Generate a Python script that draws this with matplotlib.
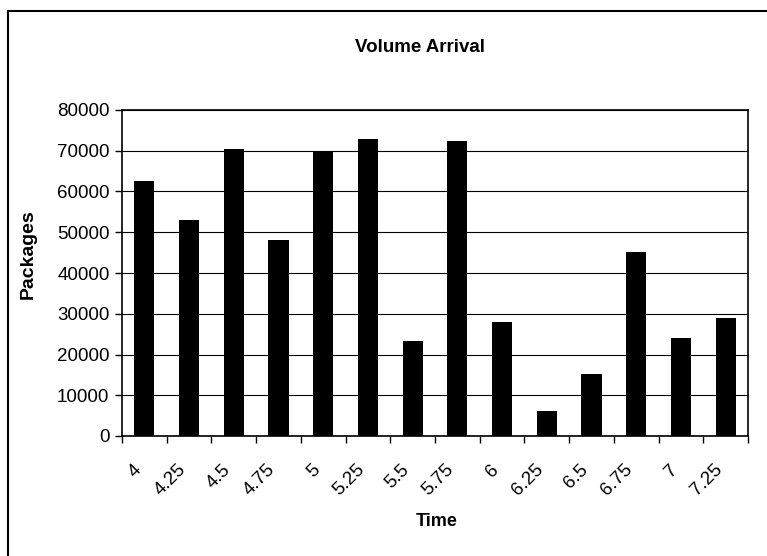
import numpy as np
import matplotlib
matplotlib.use('Agg')
import matplotlib.pyplot as plt
from matplotlib.patches import Rectangle

# data
times = ['4', '4.25', '4.5', '4.75', '5', '5.25', '5.5', '5.75', '6', '6.25', '6.5', '6.75', '7', '7.25']
packages = [62500, 53000, 70400, 48100, 70000, 72800, 23400, 72400, 28000, 6200, 15100, 45200, 24100, 29000]
y_ticks = [0, 10000, 20000, 30000, 40000, 50000, 60000, 70000, 80000]

plt.rcParams['font.family'] = ['Liberation Sans', 'DejaVu Sans']

W, H = 767, 556
fig = plt.figure(figsize=(W / 100, H / 100), dpi=100)
# axes box in pixels: left 122, right 748, top 110, bottom 436
ax = fig.add_axes([122 / W, 1 - 436 / H, (748 - 122) / W, (436 - 110) / H])

x = np.arange(len(times))
ax.bar(x, packages, width=0.45, color='black', zorder=3)

ax.set_xlim(-0.5, len(times) - 0.5)
ax.set_ylim(0, 80000)
ax.set_yticks(y_ticks)
ax.set_yticklabels([str(v) for v in y_ticks], fontsize=13.5)
ax.yaxis.grid(True, color='black', linewidth=0.8, zorder=0)

# category labels at centers, tick marks at boundaries
ax.set_xticks(x)
ax.set_xticklabels(times, fontsize=13.5, rotation=45, ha='right', va='top')
ax.tick_params(axis='x', length=0, pad=18)
ax.set_xticks(np.arange(-0.5, len(times)), minor=True)
ax.tick_params(axis='x', which='minor', length=5, width=1, direction='out')
ax.tick_params(axis='y', length=5, width=1, direction='out', pad=4)

for s in ax.spines.values():
    s.set_linewidth(1.2)
    s.set_color('black')

fig.text(420 / W, 1 - 48 / H, 'Volume Arrival', ha='center', va='center', fontsize=13.5, fontweight='bold')
fig.text(28 / W, 1 - 254 / H, 'Packages', ha='center', va='center', rotation=90, fontsize=14, fontweight='bold')
fig.text(437 / W, 1 - 522 / H, 'Time', ha='center', va='center', fontsize=13, fontweight='bold')

# outer chart border
fig.patches.append(Rectangle((8 / W, -0.1), 1.2, 1 - 11 / H + 0.1, transform=fig.transFigure,
                             fill=False, edgecolor='black', linewidth=1.5))

fig.savefig('out.png', dpi=100)
